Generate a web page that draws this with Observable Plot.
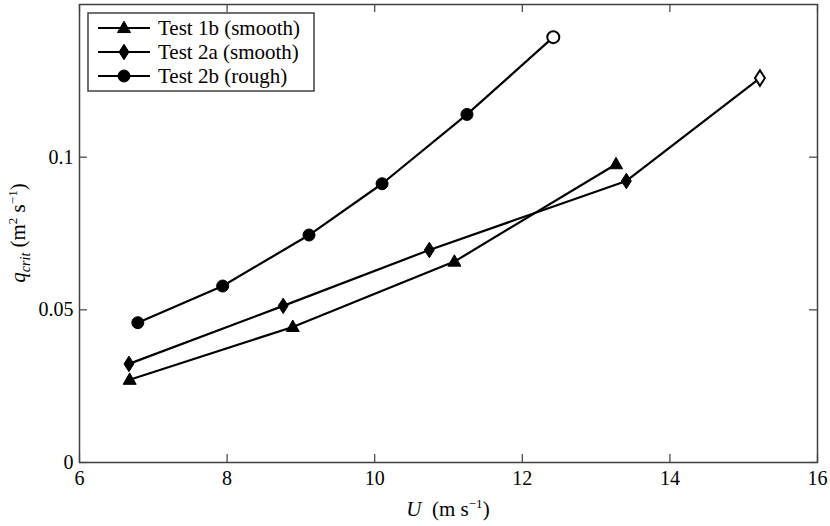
<!DOCTYPE html>
<html><head><meta charset="utf-8">
<script src="https://cdn.jsdelivr.net/npm/d3@7"></script>
<script src="https://cdn.jsdelivr.net/npm/@observablehq/plot@0.6"></script>
<style>body{margin:0;background:#fff} svg{display:block}</style>
</head><body><div id="chart"></div>
<script>
// ---- data ----
const seriesNames = ["Test 1b (smooth)", "Test 2a (smooth)", "Test 2b (rough)"];
const test1bU = [6.68, 8.89, 11.08, 13.27];
const test1bQ = [0.0271, 0.0444, 0.0658, 0.0977];
const test1bOpen = [false, false, false, false];
const test2aU = [6.67, 8.76, 10.74, 13.41, 15.22];
const test2aQ = [0.0323, 0.0513, 0.0696, 0.0922, 0.1259];
const test2aOpen = [false, false, false, false, true];
const test2bU = [6.79, 7.94, 9.11, 10.10, 11.25, 12.42];
const test2bQ = [0.0458, 0.0578, 0.0745, 0.0913, 0.1140, 0.1393];
const test2bOpen = [false, false, false, false, false, true];
const xTicks = [6, 8, 10, 12, 14, 16];
const yTicks = [0, 0.05, 0.1];
const yTickLabels = ["0", "0.05", "0.1"];

function rowsOf(name, U, Q, open) {
  return U.map((u, i) => ({series: name, U: u, q: Q[i], open: open[i]}));
}
const rows1b = rowsOf(seriesNames[0], test1bU, test1bQ, test1bOpen);
const rows2a = rowsOf(seriesNames[1], test2aU, test2aQ, test2aOpen);
const rows2b = rowsOf(seriesNames[2], test2bU, test2bQ, test2bOpen);

// ---- custom symbols ----
const symTri = {draw(ctx, size) {
  const r = Math.sqrt(size / Math.PI), h = r * 1.75;
  ctx.moveTo(0, -h * 0.6); ctx.lineTo(r, h * 0.4); ctx.lineTo(-r, h * 0.4); ctx.closePath();
}};
const symDia = {draw(ctx, size) {
  const r = Math.sqrt(size / Math.PI);
  ctx.moveTo(0, -r * 1.25); ctx.lineTo(r * 0.8, 0); ctx.lineTo(0, r * 1.25); ctx.lineTo(-r * 0.8, 0); ctx.closePath();
}};
const symCirc = {draw(ctx, size) {
  const r = Math.sqrt(size / Math.PI);
  ctx.moveTo(r, 0); ctx.arc(0, 0, r, 0, 2 * Math.PI);
}};
const symbols = [symTri, symDia, symCirc];
const radii = [6.5, 6.2, 6.0];

const W = 830, H = 526, mL = 79, mR = 13, mT = 4, mB = 64;
const pw = W - mL - mR, ph = H - mT - mB, tk = 8;
const frameColor = "#404040";
const font = "'Liberation Serif', 'Times New Roman', serif";

function dots(data, i) {
  return Plot.dot(data, {x: "U", y: "q", symbol: symbols[i], r: radii[i],
    fill: d => d.open ? "white" : "black", stroke: "black",
    strokeWidth: d => d.open ? 2 : 1});
}

const plot = Plot.plot({
  width: W, height: H, marginLeft: mL, marginRight: mR, marginTop: mT, marginBottom: mB,
  style: {fontFamily: font, fontSize: "20px", color: "#000", background: "#fff"},
  x: {domain: [6, 16], ticks: xTicks, tickSize: 0, tickPadding: 8, label: null},
  y: {domain: [0, 0.15], ticks: yTicks, tickSize: 0, tickPadding: 6,
      tickFormat: d => yTickLabels[yTicks.indexOf(d)], label: null},
  marks: [
    Plot.tickX(xTicks, {x: d => d, insetTop: ph - tk, stroke: frameColor, strokeWidth: 1.2}),
    Plot.tickX(xTicks, {x: d => d, insetBottom: ph - tk, stroke: frameColor, strokeWidth: 1.2}),
    Plot.tickY(yTicks, {y: d => d, insetRight: pw - tk, stroke: frameColor, strokeWidth: 1.2}),
    Plot.tickY(yTicks, {y: d => d, insetLeft: pw - tk, stroke: frameColor, strokeWidth: 1.2}),
    Plot.frame({stroke: frameColor, strokeWidth: 1.5}),
    Plot.line(rows1b, {x: "U", y: "q", stroke: "black", strokeWidth: 2.2}),
    Plot.line(rows2a, {x: "U", y: "q", stroke: "black", strokeWidth: 2.2}),
    Plot.line(rows2b, {x: "U", y: "q", stroke: "black", strokeWidth: 2.2}),
    dots(rows1b, 0), dots(rows2a, 1), dots(rows2b, 2)
  ]
});

const svg = d3.select(plot);
// x label
const xl = svg.append("text").attr("x", mL + pw / 2).attr("y", 516)
  .attr("text-anchor", "middle").style("font-family", font).style("font-size", "21px").attr("fill", "black");
xl.append("tspan").attr("font-style", "italic").text("U");
xl.append("tspan").text("\u00a0\u00a0(m s");
xl.append("tspan").attr("dy", -8).style("font-size", "13px").text("\u22121");
xl.append("tspan").attr("dy", 8).text(")");
// y label
const yl = svg.append("text").attr("transform", `translate(25,${mT + ph / 2}) rotate(-90)`)
  .attr("text-anchor", "middle").style("font-family", font).style("font-size", "21px").attr("fill", "black");
yl.append("tspan").attr("font-style", "italic").text("q");
yl.append("tspan").attr("font-style", "italic").attr("dy", 5).style("font-size", "14px").text("crit");
yl.append("tspan").attr("dy", -5).text("\u00a0(m");
yl.append("tspan").attr("dy", -8).style("font-size", "13px").text("2");
yl.append("tspan").attr("dy", 8).text(" s");
yl.append("tspan").attr("dy", -8).style("font-size", "13px").text("\u22121");
yl.append("tspan").attr("dy", 8).text(")");

// legend
const lg = svg.append("g");
lg.append("rect").attr("x", 88).attr("y", 13).attr("width", 226).attr("height", 78)
  .attr("fill", "white").attr("stroke", frameColor).attr("stroke-width", 1.5);
seriesNames.forEach((name, i) => {
  const y = 28 + i * 24;
  lg.append("line").attr("x1", 98).attr("x2", 150).attr("y1", y).attr("y2", y)
    .attr("stroke", "black").attr("stroke-width", 2.2);
  lg.append("path").attr("transform", `translate(124,${y})`)
    .attr("d", d3.symbol(symbols[i], Math.PI * radii[i] * radii[i])())
    .attr("fill", "black").attr("stroke", "black");
  lg.append("text").attr("x", 158).attr("y", y).attr("dy", "0.35em").attr("text-anchor", "start")
    .style("font-family", font).style("font-size", "21px").attr("fill", "black").text(name);
});

document.getElementById("chart").appendChild(plot);
</script>
</body></html>
